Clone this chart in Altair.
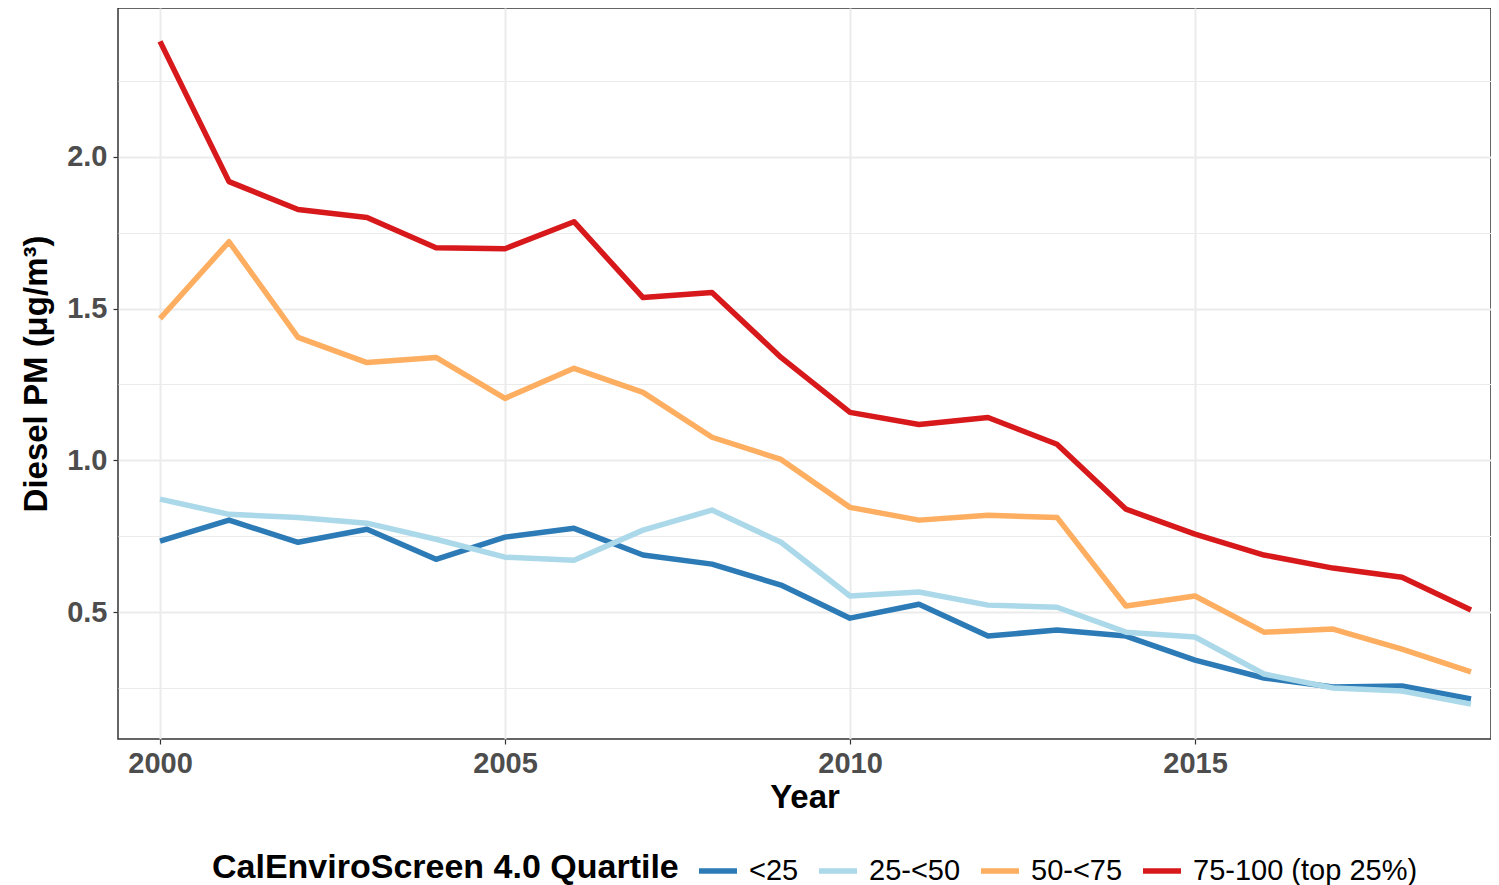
import altair as alt
import pandas as pd

years = list(range(2000, 2020))
groups = ["<25", "25-<50", "50-<75", "75-100 (top 25%)"]
colors = ["#2C7BB6", "#ABD9E9", "#FDAE61", "#D7191C"]

q_lt25 = [0.734, 0.803, 0.730, 0.773, 0.674, 0.747, 0.776, 0.688, 0.658, 0.589,
          0.480, 0.526, 0.421, 0.441, 0.421, 0.342, 0.283, 0.253, 0.257, 0.214]
q_25_50 = [0.872, 0.822, 0.812, 0.793, 0.740, 0.681, 0.671, 0.770, 0.836, 0.730,
           0.553, 0.566, 0.523, 0.516, 0.434, 0.418, 0.296, 0.250, 0.240, 0.197]
q_50_75 = [1.467, 1.720, 1.405, 1.322, 1.339, 1.204, 1.303, 1.224, 1.076, 1.003,
           0.845, 0.803, 0.819, 0.812, 0.520, 0.553, 0.434, 0.444, 0.378, 0.303]
q_75_100 = [2.380, 1.918, 1.826, 1.800, 1.700, 1.697, 1.786, 1.536, 1.553, 1.339,
            1.158, 1.118, 1.141, 1.053, 0.839, 0.757, 0.688, 0.645, 0.615, 0.507]

x_ticks = [2000, 2005, 2010, 2015]
y_ticks = [0.25, 0.5, 0.75, 1.0, 1.25, 1.5, 1.75, 2.0, 2.25]

rows = []
for g, vals in zip(groups, [q_lt25, q_25_50, q_50_75, q_75_100]):
    for yr, v in zip(years, vals):
        rows.append({"Year": yr, "PM": v, "Quartile": g})
df = pd.DataFrame(rows)

FONT = "Liberation Sans"

chart = alt.Chart(df).mark_line(strokeWidth=5.5, strokeJoin="round").encode(
    x=alt.X(
        "Year:Q",
        scale=alt.Scale(domain=[1999.391, 2019.29], nice=False, zero=False),
        axis=alt.Axis(
            values=x_ticks, format="d", title="Year",
            labelFontSize=29, labelFontWeight="bold", labelColor="#4D4D4D", labelFont=FONT,
            labelPadding=5, tickSize=5, tickColor="#333333", tickWidth=1.2,
            titleFontSize=33, titleFontWeight="bold", titleColor="#000000", titleFont=FONT,
            titlePadding=3, grid=True, gridColor="#EBEBEB", gridWidth=2, domain=False,
        ),
    ),
    y=alt.Y(
        "PM:Q",
        scale=alt.Scale(domain=[0.082, 2.49], nice=False, zero=False),
        axis=alt.Axis(
            values=y_ticks,
            labelExpr="datum.value % 0.5 === 0 ? format(datum.value, '.1f') : ''",
            title="Diesel PM (\u03bcg/m\u00b3)",
            labelFontSize=29, labelFontWeight="bold", labelColor="#4D4D4D", labelFont=FONT,
            labelPadding=6, tickSize=5, tickColor="#333333", tickWidth=1.2,
            tickOpacity={"condition": {"test": "datum.value % 0.5 !== 0", "value": 0}, "value": 1},
            titleFontSize=33, titleFontWeight="bold", titleColor="#000000", titleFont=FONT,
            titlePadding=13, grid=True, gridColor="#EBEBEB",
            gridWidth={"condition": {"test": "datum.value % 0.5 === 0", "value": 2}, "value": 1},
            domain=False,
        ),
    ),
    color=alt.Color(
        "Quartile:N",
        sort=groups,
        scale=alt.Scale(domain=groups, range=colors),
        legend=alt.Legend(
            title="CalEnviroScreen 4.0 Quartile",
            orient="none", legendX=94, legendY=841,
            direction="horizontal", titleOrient="left",
            titleFontSize=34, titleFontWeight="bold", titleColor="#000000", titleFont=FONT,
            titleLimit=0, labelLimit=0,
            labelFontSize=29, labelColor="#000000", labelFont=FONT,
            symbolType="stroke", symbolSize=1444, symbolStrokeWidth=5.5,
            labelOffset=9, columnPadding=9, titlePadding=17, padding=0,
        ),
    ),
).properties(
    width=1373,
    height=731,
    autosize=alt.AutoSizeParams(type="none"),
    padding={"left": 110, "top": 0, "right": 0, "bottom": 146},
).configure(
    background="white",
    view=alt.ViewConfig(stroke="#333333", strokeWidth=1.5),
)

chart.save("out.html", embed_options={"renderer": "svg", "actions": False})
